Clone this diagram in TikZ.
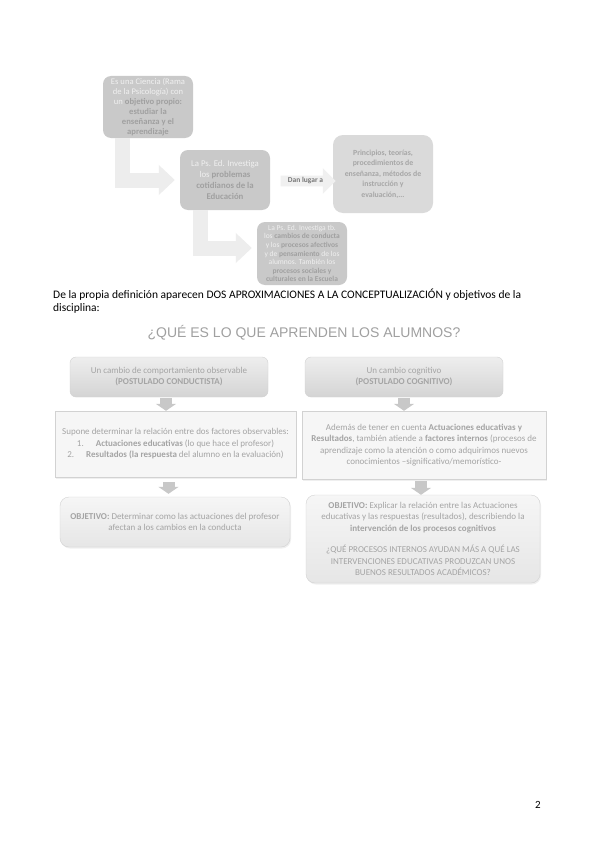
\documentclass[tikz,border=0pt]{standalone}
\usepackage{fontspec}
\setmainfont{Carlito}
\newfontfamily\arialf{Liberation Sans}
\usetikzlibrary{arrows.meta,shapes.arrows,shadows}
\definecolor{topgray}{HTML}{C9C9C9}
\definecolor{toptext}{HTML}{F0F0F0}
\definecolor{topbold}{HTML}{A0A0A0}
\definecolor{lightbox}{HTML}{DADADA}
\definecolor{lighttext}{HTML}{A6A6A6}
\definecolor{bigarr}{HTML}{EDEDED}
\definecolor{danfill}{HTML}{F0F0F0}
\definecolor{dantext}{HTML}{777777}
\definecolor{lowtext}{HTML}{A4A4A4}
\definecolor{lowdraw}{HTML}{D2D2D2}
\definecolor{smallarr}{HTML}{C8C8C8}
\definecolor{titlegray}{HTML}{A0A0A0}
\newcommand\dk[1]{\textcolor{topbold}{\textbf{#1}}}
\begin{document}
\begin{tikzpicture}[x=1pt,y=-1pt,
  topbox/.style={rounded corners=8pt, fill=topgray, inner sep=0pt, align=center,
    text=toptext, font=\fontsize{8.6}{10}\selectfont},
  bigarrow/.style={draw=bigarr, line width=15pt, line join=miter,
    -{Triangle[length=16pt,width=29pt]}},
  headbox/.style={rounded corners=6pt, top color=HeadTop, bottom color=HeadBot,
    draw=lowdraw, inner sep=0pt, align=center, text=lowtext,
    font=\fontsize{9}{11}\selectfont},
  midbox/.style={fill=MidFill, draw=lowdraw, inner sep=0pt, align=center, text=lowtext,
    font=\fontsize{9}{11.5}\selectfont,
    drop shadow={opacity=0.12, shadow xshift=1pt, shadow yshift=-1.5pt}},
  objbox/.style={rounded corners=9pt, top color=ObjTop, bottom color=ObjBot,
    draw=lowdraw, inner sep=0pt, align=center, text=lowtext,
    font=\fontsize{9}{11.5}\selectfont,
    drop shadow={opacity=0.12, shadow xshift=1pt, shadow yshift=-1.5pt}},
  smallarrow/.style={draw=smallarr, line width=12pt, -{Triangle[length=7pt,width=20pt]}}
]
\definecolor{HeadTop}{HTML}{EEEEEE}
\definecolor{HeadBot}{HTML}{D4D4D4}
\definecolor{MidFill}{HTML}{F6F6F6}
\definecolor{ObjTop}{HTML}{F6F6F6}
\definecolor{ObjBot}{HTML}{E6E6E6}
\useasboundingbox[fill=white] (0,0) rectangle (599,848);

% ---------- top diagram ----------
\node[topbox, minimum width=90pt, minimum height=62pt] (b1) at (148,107)
  {Es una Ciencia (Rama\\de la Psicología) con\\un \dk{objetivo propio:}\\\dk{estudiar la}\\\dk{enseñanza y el}\\\dk{aprendizaje}};
\node[topbox, minimum width=90pt, minimum height=60pt, font=\fontsize{8.8}{11}\selectfont] (b2) at (225,180)
  {La Ps. Ed. Investiga\\los \dk{problemas}\\\dk{cotidianos de la}\\\dk{Educación}};
\node[topbox, fill=lightbox, text=lighttext, minimum width=100pt, minimum height=78pt,
  rounded corners=10pt, font=\fontsize{7.8}{10.5}\selectfont\bfseries] (b3) at (383,174)
  {Principios, teorías,\\procedimientos de\\enseñanza, métodos de\\instrucción y\\evaluación,...};
\node[topbox, minimum width=90pt, minimum height=63pt, font=\fontsize{7.5}{8.6}\selectfont] (b4) at (302,253.5)
  {La Ps. Ed. Investiga tb.\\los \dk{cambios de conducta}\\y los \dk{procesos afectivos}\\y de \dk{pensamiento} de los\\alumnos. También los\\\dk{procesos sociales  y}\\\dk{culturales en la Escuela}};
\node[single arrow, fill=danfill, draw=none, text=dantext, inner sep=2pt,
  minimum height=55pt, single arrow head extend=7.5pt,
  font=\fontsize{7.5}{9}\selectfont\bfseries] (dan) at (305.5,181) {Dan lugar a\hspace{6pt}};

\draw[bigarrow] ([xshift=-25.5pt]b1.south) |- ([xshift=-5pt]b2.west);
\draw[bigarrow] ([xshift=-25pt]b2.south) |- ([xshift=-5pt,yshift=5.5pt]b4.west);

% ---------- text ----------
\node[anchor=north west, align=left, inner sep=0pt, font=\fontsize{11.5}{13}\selectfont] (par) at (53,289)
  {De la propia definición aparecen DOS APROXIMACIONES A LA CONCEPTUALIZACIÓN y objetivos de la\\disciplina:};
\node[inner sep=0pt, text=titlegray, font=\arialf\fontsize{14}{16}\selectfont] (title) at (304,333)
  {¿QUÉ ES LO QUE APRENDEN LOS ALUMNOS?};

% ---------- lower diagram ----------
\node[headbox, minimum width=198pt, minimum height=40pt] (l1) at (169,377)
  {Un cambio de comportamiento observable\\\textbf{(POSTULADO CONDUCTISTA)}};
\node[headbox, minimum width=198pt, minimum height=40pt] (r1) at (404,377)
  {Un cambio cognitivo\\\textbf{(POSTULADO COGNITIVO)}};
\node[midbox, minimum width=241pt, minimum height=66pt] (l2) at (175.5,444)
  {Supone determinar la relación entre dos factores observables:\\
   1.\hspace{12pt}\textbf{Actuaciones educativas} (lo que hace el profesor)\\
   2.\hspace{12pt}\textbf{Resultados (la respuesta} del alumno en la evaluación)};
\node[midbox, minimum width=244pt, minimum height=68pt] (r2) at (424,445)
  {Además de tener en cuenta \textbf{Actuaciones educativas y}\\
   \textbf{Resultados}, también atiende a \textbf{factores internos} (procesos de\\
   aprendizaje como la atención o como adquirimos nuevos\\
   conocimientos –significativo/memorístico-};
\node[objbox, minimum width=230pt, minimum height=50pt] (l3) at (175,522)
  {\textbf{OBJETIVO:} Determinar como las actuaciones del profesor\\afectan a los cambios en la conducta};
\node[objbox, minimum width=234pt, minimum height=88pt] (r3) at (423,539)
  {\textbf{OBJETIVO:} Explicar la relación entre las Actuaciones\\
   educativas y las respuestas (resultados), describiendo la\\
   \textbf{intervención de los procesos cognitivos}\\[10pt]
   ¿QUÉ PROCESOS INTERNOS AYUDAN MÁS A QUÉ LAS\\
   INTERVENCIONES EDUCATIVAS PRODUZCAN UNOS\\
   BUENOS RESULTADOS ACADÉMICOS?};

\draw[smallarrow] ([xshift=-3pt,yshift=-1pt]l1.south) -- ([xshift=-3pt]l1.south |- l2.north);
\draw[smallarrow] ([yshift=-1pt]r1.south) -- (r1.south |- r2.north);
\draw[smallarrow] ([xshift=-7pt,yshift=-5pt]l2.south) -- ([xshift=-7pt,yshift=3pt]l2.south |- l3.north);
\draw[smallarrow] ([xshift=-3pt,yshift=-2pt]r2.south) -- ([xshift=-3pt]r2.south |- r3.north);

\node[inner sep=0pt, font=\fontsize{11}{13}\selectfont] (pagenum) at (538,805) {2};
\end{tikzpicture}
\end{document}
